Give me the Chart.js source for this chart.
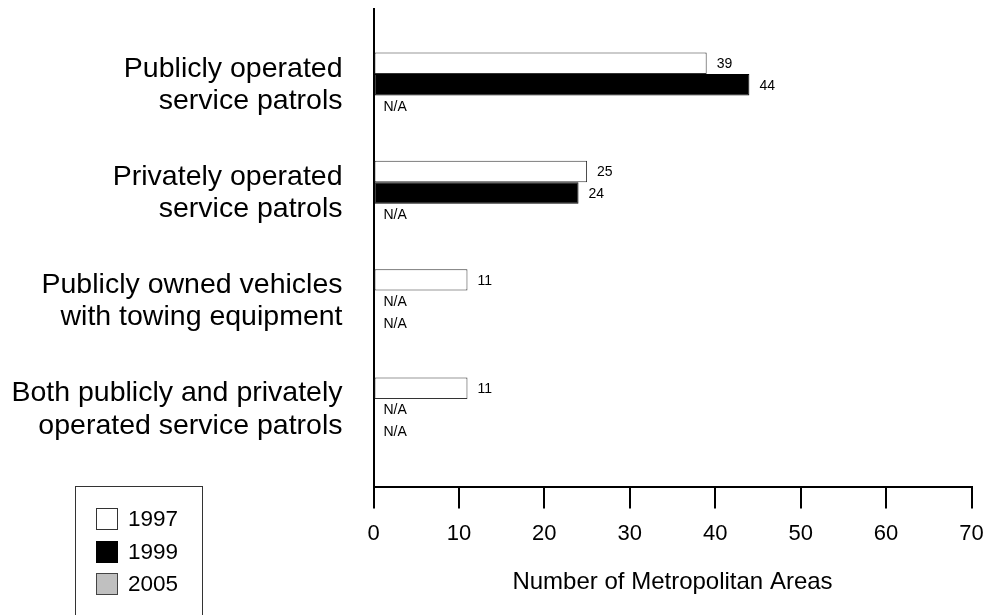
<!DOCTYPE html>
<html>
<head>
<meta charset="utf-8">
<script src="https://cdn.jsdelivr.net/npm/chart.js@4.4.0/dist/chart.umd.min.js"></script>
<style>
  html, body { margin: 0; padding: 0; background: #fff; }
  #wrap { position: relative; width: 994px; height: 615px; overflow: hidden; }
  #legend {
    position: absolute; left: 75px; top: 486px; width: 128px; height: 160px;
    border: 1px solid #333; box-sizing: border-box;
    font-family: 'Liberation Sans', Arial, sans-serif; font-size: 22.5px; color: #000;
  }
  .item { position: absolute; left: 20px; height: 22px; line-height: 22px; }
  .sw { position: absolute; left: 0; top: 0; width: 22px; height: 22px; box-sizing: border-box; border: 1px solid #444; }
  .lbl { position: absolute; left: 32px; top: 0; }
</style>
</head>
<body>
<div id="wrap">
  <canvas id="chart" width="994" height="615"></canvas>
  <div id="legend"></div>
</div>
<script>
// categories (top to bottom) and values per year; null = N/A
const categories = [
  ['Publicly operated', 'service patrols'],
  ['Privately operated', 'service patrols'],
  ['Publicly owned vehicles', 'with towing equipment'],
  ['Both publicly and privately', 'operated service patrols']
];
const years = ['1997', '1999', '2005'];
const values1997 = [39, 25, 11, 11];
const values1999 = [44, 24, null, null];
const values2005 = [null, null, null, null];
const xTicks = [0, 10, 20, 30, 40, 50, 60, 70];

const fills = ['#ffffff', '#000000', '#c0c0c0'];
const borders = ['#333333', '#000000', '#444444'];
const FONT = "'Liberation Sans', Arial, sans-serif";

const toPoints = vals => vals.map((v, i) => ({ x: v, y: i }));

// value labels: number right of bar end, "N/A" at the axis for missing bars
const barLabels = {
  id: 'barLabels',
  afterDatasetsDraw(chart) {
    const ctx = chart.ctx;
    const xs = chart.scales.x;
    ctx.save();
    ctx.font = '14px ' + FONT;
    ctx.fillStyle = '#000';
    ctx.textAlign = 'left';
    ctx.textBaseline = 'middle';
    chart.data.datasets.forEach((ds, di) => {
      const meta = chart.getDatasetMeta(di);
      meta.data.forEach((bar, i) => {
        const v = ds.data[i].x;
        const px = xs.getPixelForValue(v == null ? 0 : v) + 10;
        ctx.fillText(v == null ? 'N/A' : String(v), px, bar.y + 1);
      });
    });
    ctx.restore();
  }
};

const chart = new Chart(document.getElementById('chart').getContext('2d'), {
  type: 'bar',
  data: {
    datasets: [values1997, values1999, values2005].map((vals, i) => ({
      label: years[i],
      data: toPoints(vals),
      backgroundColor: fills[i],
      borderColor: borders[i],
      borderWidth: 1,
      borderSkipped: false,
      categoryPercentage: 0.595,
      barPercentage: 1.0
    }))
  },
  options: {
    indexAxis: 'y',
    responsive: false,
    animation: false,
    layout: { padding: { top: 9, right: 22.5, left: 0, bottom: 0 } },
    plugins: { legend: { display: false }, tooltip: { enabled: false } },
    scales: {
      x: {
        type: 'linear',
        min: 0, max: 70,
        afterBuildTicks: s => { s.ticks = xTicks.map(v => ({ value: v })); },
        grid: { display: true, drawOnChartArea: false, drawTicks: true, tickLength: 22, color: '#000', lineWidth: 2 },
        border: { display: true, color: '#000', width: 2 },
        ticks: { color: '#000', padding: 12, maxRotation: 0, font: { family: FONT, size: 22 } },
        title: {
          display: true, text: 'Number of Metropolitan Areas', color: '#000',
          font: { family: FONT, size: 24 }, padding: { top: 4, bottom: 18 }
        },
        afterFit: s => { s.height = 128.5; s.paddingLeft = 0; s.paddingRight = 0; }
      },
      y: {
        type: 'linear',
        reverse: true,
        offset: false,
        min: -0.7, max: 3.71,
        afterBuildTicks: s => { s.ticks = categories.map((_, i) => ({ value: i })); },
        grid: { display: false, drawTicks: false, offset: false },
        border: { display: true, color: '#000', width: 2 },
        ticks: {
          color: '#000', padding: 31,
          font: { family: FONT, size: 28.5, lineHeight: 1.13 },
          callback: v => categories[v] || ''
        },
        afterFit: s => { s.width = 373.5; s.paddingTop = 0; s.paddingBottom = 0; }
      }
    }
  },
  plugins: [barLabels]
});

// legend box built from the same series
const legend = document.getElementById('legend');
years.forEach((y, i) => {
  const it = document.createElement('div');
  it.className = 'item';
  it.style.top = (21 + i * 32.5) + 'px';
  it.innerHTML = '<span class="sw" style="background:' + fills[i] + ';border-color:' + borders[i] + '"></span><span class="lbl">' + y + '</span>';
  legend.appendChild(it);
});
</script>
</body>
</html>
